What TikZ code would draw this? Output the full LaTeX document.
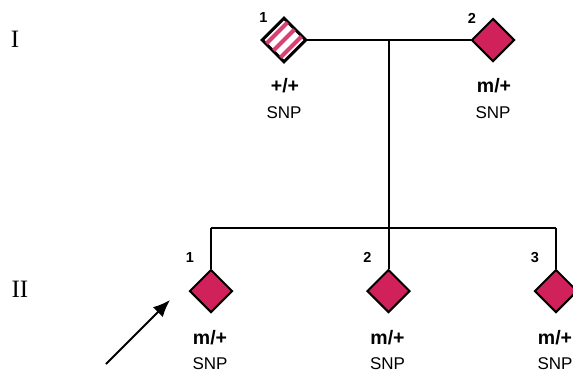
\documentclass[tikz,border=0pt]{standalone}
\usepackage{fontspec}
\setmainfont{Liberation Serif}
\setsansfont{Liberation Sans}
\usetikzlibrary{shapes.geometric,arrows.meta}
\definecolor{affected}{RGB}{208,33,90}
\tikzset{
    person/.style={diamond, draw, line width=2pt, minimum width=43pt, minimum height=43pt, inner sep=0pt, fill=affected},
    link/.style={line width=2pt},
    idnum/.style={font=\sffamily\bfseries\fontsize{14.5}{14.5}\selectfont},
    geno/.style={font=\sffamily\bfseries\fontsize{19.5}{19.5}\selectfont},
    snp/.style={font=\sffamily\fontsize{17}{17}\selectfont},
    gen/.style={font=\fontsize{25}{25}\selectfont}
}
\begin{document}
\begin{tikzpicture}[x=1pt,y=-1pt]
    \useasboundingbox (0,0) rectangle (573,376);
    \def\d{7}
    % generation I
    \node[gen] (genI) at (15,39) {I};
    \node[person, fill=white] (p11) at (284,40) {};
    \node[person] (p12) at (493,40) {};
    \begin{scope}
    \clip (p11.north) -- (p11.east) -- (p11.south) -- (p11.west) -- cycle;
    \foreach \i in {-1,0,1}{
        \draw[affected!85, line width=4pt, shift={(p11.center)}] (\i * \d - 20, \i * \d + 20) -- (\i * \d + 20, \i * \d - 20);}
    \end{scope}
    \draw[link] (p11.north) -- (p11.east) -- (p11.south) -- (p11.west) -- cycle;
    \node[idnum] (n11) at (263.5,18) {1};
    \node[idnum] (n12) at (472,18.5) {2};
    \node[geno] (g11) at (285,86) {+/+};
    \node[geno] (g12) at (494,86) {m/+};
    \node[snp] (s11) at (284,113) {SNP};
    \node[snp] (s12) at (493,113) {SNP};
    % generation II
    \node[gen] (genII) at (20,289) {II};
    \foreach \x/\n in {211/1,388.5/2,556/3}{
        \node[person] (p2\n) at (\x,291) {};
        \node[idnum] (n2\n) at (\x - 21,257.5) {\n};
        \node[geno] (g2\n) at (\x - 1,338) {m/+};
        \node[snp] (s2\n) at (\x - 1,364) {SNP};}
    % lines of descent
    \coordinate (mid) at (388.5,40);
    \coordinate (sib) at (388.5,228);
    \draw[link] (p11.east) -- (p12.west);
    \draw[link] (mid) -- (sib);
    \draw[link] (p21.north |- sib) -- (p23.north |- sib);
    \foreach \n in {1,2,3}{
        \draw[link] (p2\n.north |- sib) -- (p2\n.north);}
    % proband
    \coordinate (tail) at (106,364);
    \coordinate (tip) at (170,300);
    \draw[link, -{Latex[length=17pt,width=14pt]}] (tail) -- (tip);
\end{tikzpicture}
\end{document}
